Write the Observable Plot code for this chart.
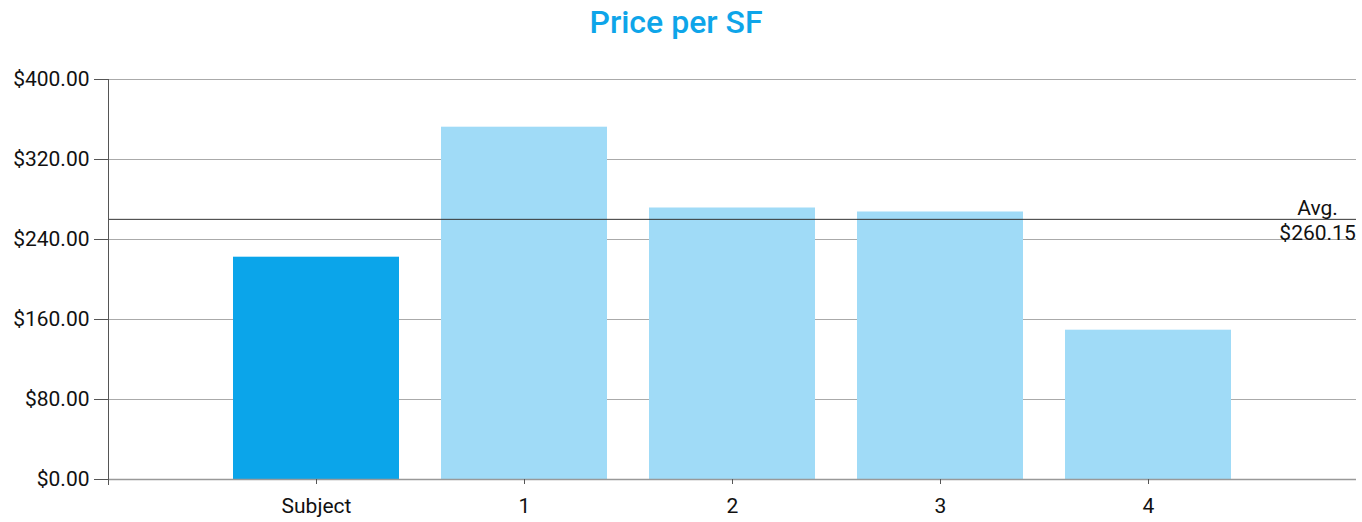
<!DOCTYPE html>
<html>
<head>
<meta charset="utf-8">
<script src="https://cdn.jsdelivr.net/npm/d3@7"></script>
<script src="https://cdn.jsdelivr.net/npm/@observablehq/plot@0.6"></script>
<style>
  html, body { margin: 0; padding: 0; background: #fff; }
  body { width: 1362px; height: 522px; overflow: hidden; font-family: Roboto, sans-serif; }
  #title { height: 50px; line-height: 44px; text-align: center; color: #0ea5e9; font-size: 32px; font-weight: 500; padding-right: 10px; }
  #chart svg { display: block; }
</style>
</head>
<body>
<div id="title">Price per SF</div>
<div id="chart"></div>
<script>
const categories = ["Subject", "1", "2", "3", "4"];
const values = [222.3, 352.3, 271.5, 267.5, 149.3];
const kinds = ["subject", "comp", "comp", "comp", "comp"];
const avgValue = 260.15;
const avgLabel = "Avg.\n$260.15";
const yTicks = [0, 80, 160, 240, 320, 400];

const data = categories.map((c, i) => ({category: c, value: values[i], kind: kinds[i]}));
const fmt = d3.format("$,.2f");

const chart = Plot.plot({
  width: 1362,
  height: 472,
  marginTop: 29,
  marginBottom: 43,
  marginLeft: 108,
  marginRight: 6,
  style: {fontFamily: "Roboto, sans-serif", fontSize: "21px", color: "#111"},
  x: {domain: categories, paddingInner: 0.2, paddingOuter: 0.6, label: null},
  y: {domain: [0, 400], label: null},
  color: {domain: ["subject", "comp"], range: ["#0ba5ea", "#a0dbf7"]},
  marks: [
    Plot.gridY(yTicks, {stroke: "#aaa", strokeOpacity: 1, strokeWidth: 1}),
    Plot.barY(data, {x: "category", y: "value", fill: "kind"}),
    Plot.ruleY([0], {stroke: "#999", strokeWidth: 1.5}),
    Plot.ruleY([avgValue], {stroke: "#333", strokeWidth: 1}),
    Plot.text([avgLabel], {y: () => avgValue, frameAnchor: "right", textAnchor: "middle", dx: -39, lineAnchor: "middle", lineHeight: 1.2, fontSize: 21, fill: "#111", text: d => d}),
    Plot.axisY(yTicks, {tickSize: 14, tickPadding: 5, tickFormat: fmt, stroke: "#555", fontSize: 21, label: null}),
    Plot.axisX({tickSize: 5, tickPadding: 14, stroke: "#555", fontSize: 21, label: null}),
    Plot.frame({anchor: "left", stroke: "#555", insetBottom: -5})
  ]
});
document.getElementById("chart").appendChild(chart);
</script>
</body>
</html>
